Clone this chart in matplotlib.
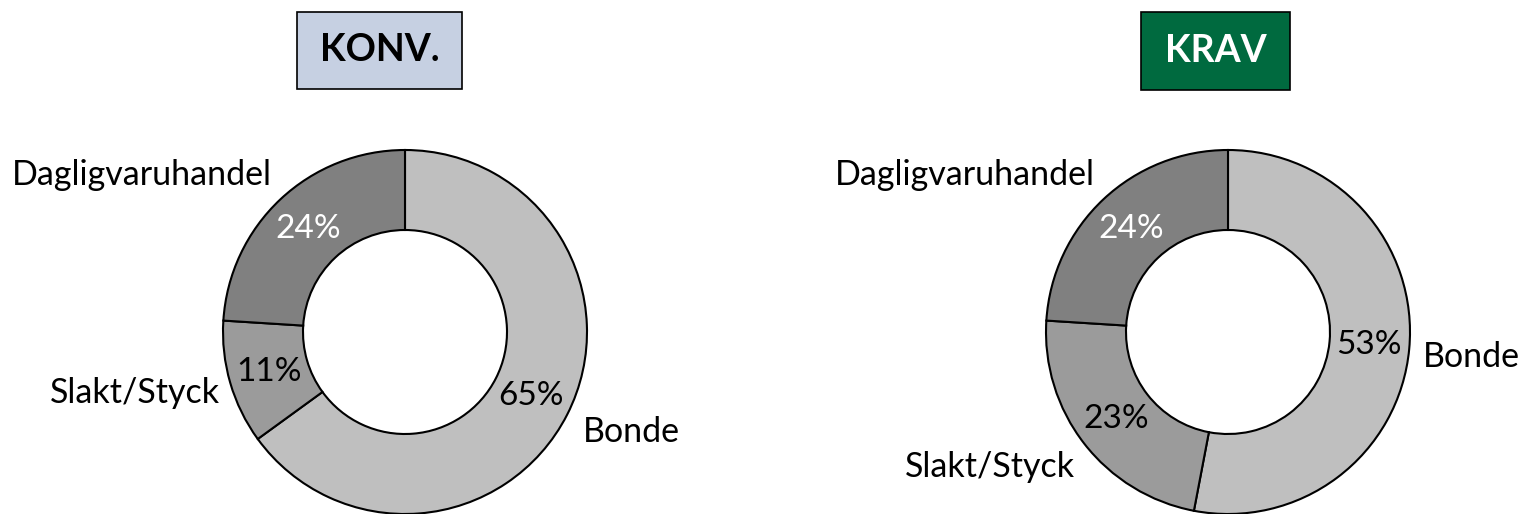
import matplotlib
matplotlib.use("Agg")
import matplotlib.pyplot as plt
from matplotlib.patches import Rectangle

plt.rcParams['font.family'] = ['Lato', 'DejaVu Sans']

categories = ["Bonde", "Slakt/Styck", "Dagligvaruhandel"]
konv_values = [65, 11, 24]
krav_values = [53, 23, 24]
titles = ["KONV.", "KRAV"]

colors = ["#BFBFBF", "#9B9B9B", "#808080"]
pct_colors = ["black", "black", "white"]

W, H = 1521, 514
fig = plt.figure(figsize=(W / 100, H / 100), dpi=100)
ax = fig.add_axes([0, 0, 1, 1])
ax.set_xlim(0, W)
ax.set_ylim(0, H)
ax.set_aspect('equal')
ax.axis('off')

R = 182
ring = 80


def y(py):
    return H - py


def donut(values, cx, cy):
    wedges, texts, autotexts = ax.pie(
        values, center=(cx, y(cy)), radius=R, startangle=90, counterclock=False,
        colors=colors, autopct=lambda p: f"{p:.0f}%", pctdistance=0.78,
        wedgeprops=dict(width=ring, edgecolor="black", linewidth=1.5),
        textprops=dict(fontsize=24), frame=True)
    for t, c in zip(autotexts, pct_colors):
        t.set_color(c)
    return wedges


donut(konv_values, 405, 332)
donut(krav_values, 1228, 332)
ax.set_xlim(0, W)
ax.set_ylim(0, H)
ax.axis('off')

lab_fs = 24.5
# left donut labels
ax.text(12, y(185), categories[2], fontsize=lab_fs, ha='left', va='baseline')
ax.text(50, y(403), categories[1], fontsize=lab_fs, ha='left', va='baseline')
ax.text(583, y(442), categories[0], fontsize=lab_fs, ha='left', va='baseline')
# right donut labels
ax.text(835, y(185), categories[2], fontsize=lab_fs, ha='left', va='baseline')
ax.text(905, y(477), categories[1], fontsize=lab_fs, ha='left', va='baseline')
ax.text(1423, y(367), categories[0], fontsize=lab_fs, ha='left', va='baseline')

# title boxes
ax.add_patch(Rectangle((297, y(89)), 165, 77, facecolor="#C6D0E2",
                       edgecolor="black", linewidth=1.2))
ax.text(379.5, y(50), titles[0], fontsize=27, fontweight='bold',
        ha='center', va='center', color='black')
ax.add_patch(Rectangle((1141, y(90)), 149, 78, facecolor="#006A3F",
                       edgecolor="black", linewidth=1.2))
ax.text(1215.5, y(51), titles[1], fontsize=27, fontweight='bold',
        ha='center', va='center', color='white')

fig.savefig("out.png", dpi=100)
